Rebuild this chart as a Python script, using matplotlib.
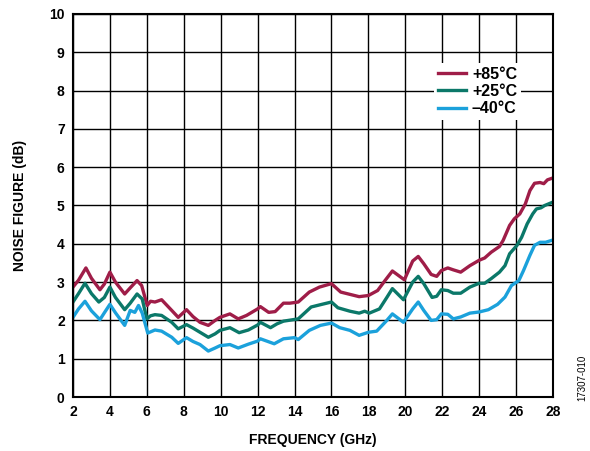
import matplotlib
matplotlib.use("Agg")
import matplotlib.pyplot as plt

plt.rcParams["font.family"] = ["Liberation Sans", "DejaVu Sans"]

# noise figure vs frequency
freq_85 = [2.0, 2.3, 2.7, 3.0, 3.46, 3.7, 4.0, 4.3, 4.8, 5.1, 5.47, 5.72, 6.02, 6.2, 6.44,
           6.8, 7.35, 7.7, 8.15, 8.5, 8.88, 9.33, 9.7, 9.96, 10.5, 10.95, 11.4, 12.0,
           12.15, 12.6, 12.95, 13.4, 13.75, 14.2, 14.8, 15.35, 16.0, 16.5, 17.0, 17.5,
           18.0, 18.5, 18.9, 19.3, 19.95, 20.4, 20.7, 21.0, 21.4, 21.7, 21.95, 22.3,
           22.6, 23.0, 23.5, 24.0, 24.3, 24.65, 25.1, 25.3, 25.65, 25.9, 26.2, 26.5,
           26.75, 27.0, 27.3, 27.5, 27.7, 28.0]
nf_85 = [2.87, 3.05, 3.37, 3.1, 2.8, 2.95, 3.26, 3.0, 2.69, 2.85, 3.04, 2.91, 2.39, 2.5, 2.48,
         2.54, 2.26, 2.08, 2.28, 2.1, 1.95, 1.87, 2.0, 2.08, 2.17, 2.04, 2.13, 2.3,
         2.36, 2.21, 2.23, 2.45, 2.45, 2.48, 2.74, 2.87, 2.96, 2.74, 2.68, 2.62,
         2.65, 2.78, 3.04, 3.29, 3.06, 3.55, 3.67, 3.48, 3.2, 3.15, 3.3, 3.37,
         3.32, 3.26, 3.43, 3.57, 3.63, 3.78, 3.93, 4.09, 4.48, 4.65, 4.78, 5.04,
         5.39, 5.58, 5.6, 5.57, 5.67, 5.72]

freq_25 = [2.0, 2.3, 2.65, 3.0, 3.4, 3.7, 4.0, 4.3, 4.8, 5.1, 5.47, 5.75, 6.0, 6.2, 6.44,
           6.8, 7.35, 7.7, 8.15, 8.5, 8.88, 9.33, 9.7, 9.96, 10.5, 11.0, 11.5, 12.0,
           12.15, 12.7, 13.05, 13.4, 14.2, 14.9, 15.4, 16.0, 16.35, 17.0, 17.5, 17.8,
           18.05, 18.6, 19.0, 19.3, 19.9, 20.4, 20.7, 21.0, 21.45, 21.7, 21.95, 22.3,
           22.6, 23.0, 23.5, 24.0, 24.3, 24.65, 25.1, 25.4, 25.65, 26.05, 26.3, 26.6,
           26.9, 27.1, 27.35, 27.55, 28.0]
nf_25 = [2.48, 2.7, 2.97, 2.7, 2.48, 2.6, 2.87, 2.6, 2.28, 2.45, 2.69, 2.56, 2.04, 2.12, 2.15,
         2.13, 1.95, 1.78, 1.89, 1.8, 1.69, 1.56, 1.65, 1.74, 1.81, 1.68, 1.75, 1.88,
         1.95, 1.81, 1.91, 1.98, 2.04, 2.35, 2.41, 2.48, 2.33, 2.24, 2.19, 2.24,
         2.19, 2.3, 2.6, 2.83, 2.54, 3.0, 3.15, 2.96, 2.6, 2.63, 2.8, 2.78,
         2.71, 2.71, 2.87, 2.97, 2.97, 3.09, 3.26, 3.43, 3.74, 3.96, 4.17, 4.52,
         4.78, 4.91, 4.94, 5.0, 5.09]

freq_m40 = [2.0, 2.3, 2.65, 3.0, 3.46, 3.7, 4.0, 4.3, 4.8, 5.1, 5.35, 5.55, 5.75, 6.05, 6.44,
            6.8, 7.35, 7.7, 8.15, 8.5, 8.88, 9.33, 9.7, 9.96, 10.5, 10.95, 11.5, 12.0,
            12.15, 12.9, 13.4, 14.0, 14.2, 14.8, 15.4, 16.0, 16.45, 17.0, 17.5, 18.0,
            18.45, 19.0, 19.3, 19.9, 20.4, 20.7, 21.0, 21.4, 21.7, 21.95, 22.3, 22.6,
            23.0, 23.5, 24.0, 24.5, 25.0, 25.4, 25.75, 26.15, 26.4, 26.75, 27.0, 27.3,
            27.6, 28.0]
nf_m40 = [2.08, 2.3, 2.5, 2.25, 2.02, 2.2, 2.42, 2.2, 1.87, 2.26, 2.21, 2.39, 2.19, 1.67, 1.75,
          1.72, 1.56, 1.4, 1.55, 1.45, 1.37, 1.2, 1.28, 1.34, 1.37, 1.28, 1.38, 1.46,
          1.52, 1.39, 1.52, 1.55, 1.5, 1.74, 1.87, 1.93, 1.81, 1.74, 1.61, 1.69,
          1.72, 2.0, 2.17, 1.95, 2.3, 2.48, 2.26, 2.0, 2.02, 2.17, 2.16, 2.04,
          2.09, 2.19, 2.22, 2.28, 2.42, 2.61, 2.91, 3.04, 3.3, 3.7, 3.96, 4.04,
          4.04, 4.1]

labels = ["+85°C", "+25°C", "\u201340°C"]
colors = ["#9F1D48", "#0B7869", "#1BA1DB"]

fig = plt.figure(figsize=(5.9, 4.51), dpi=100)
ax = fig.add_axes([0.1237, 0.1197, 0.8136, 0.8493])

for f, nf, lab, c in zip([freq_85, freq_25, freq_m40], [nf_85, nf_25, nf_m40], labels, colors):
    ax.plot(f, nf, color=c, lw=2.4, label=lab, solid_joinstyle="round")

ax.set_xlim(2, 28)
ax.set_ylim(0, 10)
ax.set_xticks(range(2, 29, 2))
ax.set_yticks(range(0, 11))
ax.grid(True, color="black", lw=1.0)
ax.set_axisbelow(True)
for s in ax.spines.values():
    s.set_linewidth(1.5)
ax.tick_params(length=0, pad=6, labelsize=10)
for t in ax.get_xticklabels() + ax.get_yticklabels():
    t.set_fontweight("bold")

ax.set_xlabel("FREQUENCY (GHz)", fontsize=10, fontweight="bold", labelpad=10)
ax.set_ylabel("NOISE FIGURE (dB)", fontsize=10, fontweight="bold", labelpad=16)

leg = ax.legend(loc="upper right", bbox_to_anchor=(0.95, 0.893), frameon=True,
                fancybox=False, edgecolor="none", framealpha=1.0,
                prop={"weight": "bold", "size": 11.5}, handlelength=1.7,
                handletextpad=0.4, labelspacing=0.13, borderpad=0.25)

fig.text(0.987, 0.11, "17307-010", rotation=90, fontsize=7, ha="center", va="bottom")

fig.savefig("out.png", dpi=100)
